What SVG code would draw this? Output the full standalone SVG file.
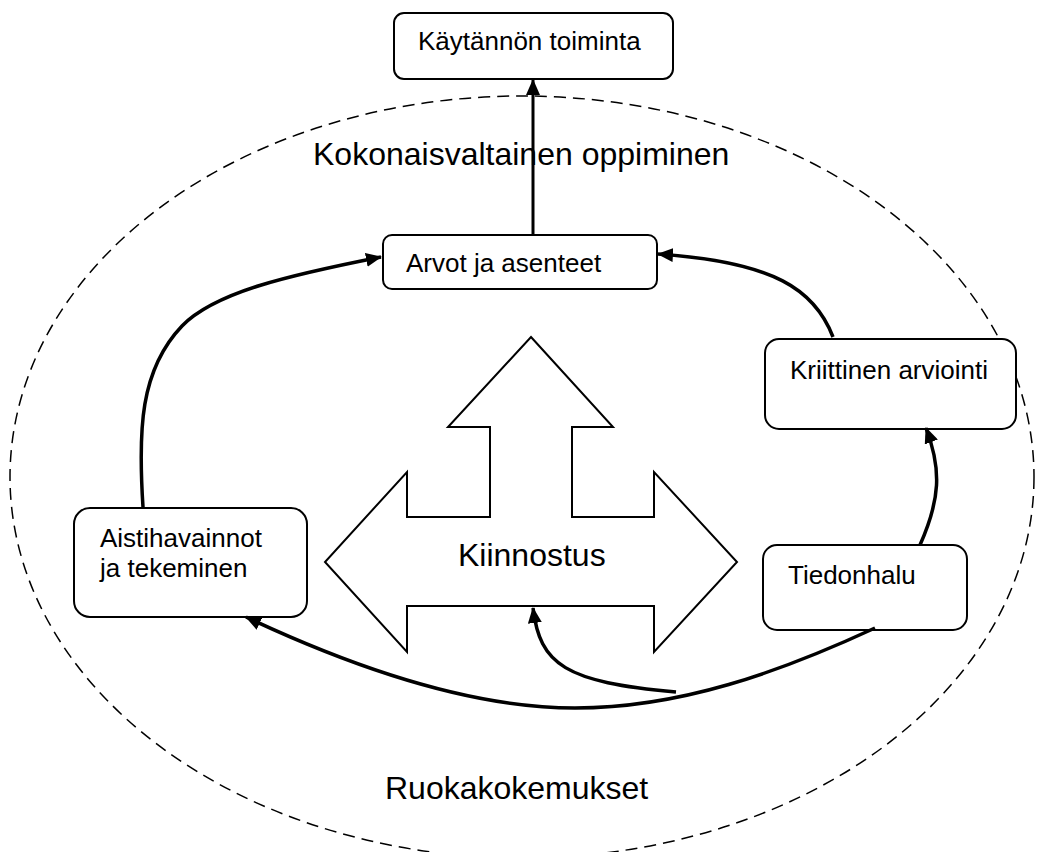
<svg xmlns="http://www.w3.org/2000/svg" width="1038" height="852" viewBox="0 0 1038 852">
<style>
  .box{fill:#fff;stroke:#000;stroke-width:2}
  .t{font-family:"Liberation Sans",Arial,sans-serif;fill:#000}
  .s26{font-size:26px}
  .s32{font-size:32px}
  .con{fill:none;stroke:#000;stroke-width:3.5;marker-end:url(#ah)}
</style>
<defs>
  <marker id="ah" viewBox="0 0 16 14" refX="15" refY="7" markerWidth="16" markerHeight="14" markerUnits="userSpaceOnUse" orient="auto">
    <path d="M0,0 L16,7 L0,14 z" fill="#000"/>
  </marker>
</defs>
<rect width="1038" height="852" fill="#fff"/>
<g id="ellipse">
  <ellipse cx="522" cy="477" rx="512" ry="381" fill="none" stroke="#000" stroke-width="1.5" stroke-dasharray="12 7"/>
  <text class="t s32" x="313" y="165">Kokonaisvaltainen oppiminen</text>
  <text class="t s32" x="385" y="799">Ruokakokemukset</text>
</g>
<g id="kiinnostus">
  <polygon points="531,337 613,427 572,427 572,517 654,517 654,472 737,562 654,652 654,606 407,606 407,652 325,562 407,472 407,517 490,517 490,427 448,427" fill="#fff" stroke="#000" stroke-width="2"/>
  <text class="t s32" x="458" y="566">Kiinnostus</text>
</g>
<g id="kaytannon">
  <rect class="box" x="394" y="13" width="279" height="66" rx="10"/>
  <text class="t s26" x="418" y="50">Käytännön toiminta</text>
</g>
<g id="arvot">
  <rect class="box" x="383" y="235" width="274" height="54" rx="9"/>
  <text class="t s26" x="406" y="272">Arvot ja asenteet</text>
</g>
<g id="aisti">
  <rect class="box" x="74" y="508" width="233" height="109" rx="16"/>
  <text class="t s26" x="100" y="547">Aistihavainnot</text>
  <text class="t s26" x="100" y="577">ja tekeminen</text>
</g>
<g id="kriittinen">
  <rect class="box" x="765" y="339" width="251" height="90" rx="14"/>
  <text class="t s26" x="790" y="379">Kriittinen arviointi</text>
</g>
<g id="tiedonhalu">
  <rect class="box" x="763" y="545" width="204" height="85" rx="14"/>
  <text class="t s26" x="788" y="584">Tiedonhalu</text>
</g>
<g id="connectors">
  <path class="con" style="stroke-width:3" d="M533,235 L533,80"/>
  <path class="con" d="M143,507 C138,430 140,370 182,326 C215,292 290,275 381,257"/>
  <path class="con" d="M833,337 C815,290 775,262 658,254"/>
  <path class="con" d="M920,545 C940,500 942,470 926,428"/>
  <path class="con" d="M875,628 C780,672 680,708 575,708 C490,708 380,680 246,617"/>
  <path class="con" d="M676,692 C565,682 540,665 533,608"/>
</g>
</svg>
